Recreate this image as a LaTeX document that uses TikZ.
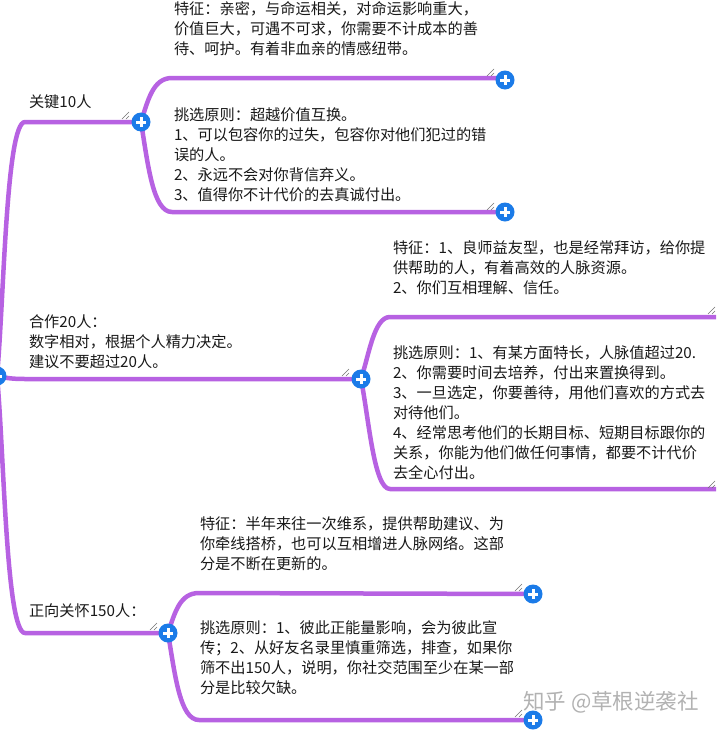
\documentclass[tikz,border=0pt]{standalone}
\usepackage{fontspec}
\setmainfont{Noto Sans CJK SC}
\usetikzlibrary{calc}
\definecolor{branch}{HTML}{B762E2}
\definecolor{plusblue}{HTML}{1B7BE8}
\tikzset{
  x=1pt,y=-1pt,
  limb/.style={draw=branch,line width=4.5pt,line cap=round,line join=round},
  txt/.style={anchor=north west,inner sep=0pt,outer sep=0pt,align=left,font=\fontsize{15.2pt}{20pt}\selectfont,text=black!90},
  plusnode/.style={circle,fill=plusblue,minimum size=19pt,inner sep=0pt},
  grip/.style={draw=black!55,line width=0.5pt},
  wmark/.style={text=black!30,inner sep=0pt,font=\fontsize{21.5pt}{22pt}\selectfont}
}
\newcommand{\plusat}[3]{%
  \node[plusnode] (#1) at (#2,#3) {};
  \draw[white,line width=3pt] ($(#1)+(-5,0)$) -- ($(#1)+(5,0)$) ($(#1)+(0,-5)$) -- ($(#1)+(0,5)$);
}
\newcommand{\gripat}[2]{%
  \draw[grip] (#1-4,#2+3) -- (#1+3,#2-4) (#1,#2+3) -- (#1+3,#2);
}
\begin{document}
\begin{tikzpicture}
\useasboundingbox (0,0) rectangle (716,731);
\clip (0,0) rectangle (716,731);
\fill[white] (0,0) rectangle (716,731);
% free ends and elbows
\coordinate (k1a) at (25,122);
\coordinate (k2a) at (25,379);
\coordinate (k3a) at (25,633);
\coordinate (r2up) at (390,317);
\coordinate (r2upend) at (716,317);
\coordinate (r2dn) at (390,489);
\coordinate (r2dnend) at (716,489);
% plus nodes positions (drawn after limbs)
\coordinate (root) at (-3,376);
\coordinate (p1) at (141,122);
\coordinate (p2) at (361,379);
\coordinate (p3) at (168,633);
\coordinate (p1a) at (505,80);
\coordinate (p1b) at (505,212);
\coordinate (p3a) at (533,594);
\coordinate (p3b) at (533,720);
% main limbs
\draw[limb] (root) .. controls (4,300) and (6,122) .. (k1a) -- (p1);
\draw[limb] (root) .. controls (6,378) and (12,379) .. (k2a) -- (p2);
\draw[limb] (root) .. controls (4,450) and (6,633) .. (k3a) -- (p3);
% branch 1
\draw[limb] (p1) .. controls (148,100) and (153,78) .. (172,78) -- (495,78) -- (p1a);
\draw[limb] (p1) .. controls (148,165) and (153,212) .. (172,212) -- (p1b);
% branch 2
\draw[limb] (p2) .. controls (369,355) and (374,317) .. (r2up) -- (r2upend);
\draw[limb] (p2) .. controls (369,420) and (374,489) .. (r2dn) -- (r2dnend);
% branch 3
\draw[limb] (p3) .. controls (175,612) and (180,593) .. (199,593) -- (p3a);
\draw[limb] (p3) .. controls (175,675) and (180,720) .. (199,720) -- (p3b);
% grips
\gripat{126}{116}
\gripat{346}{373}
\gripat{154}{627}
\gripat{491}{73}
\gripat{491}{207}
\gripat{519}{588}
\gripat{519}{714}
\gripat{712}{311}
\gripat{712}{485}
% plus
\plusat{rootp}{-3}{376}
\plusat{pa}{141}{122}
\plusat{pb}{361}{379}
\plusat{pc}{168}{633}
\plusat{paa}{505}{80}
\plusat{pab}{505}{212}
\plusat{pca}{533}{594}
\plusat{pcb}{533}{720}
% texts
\node[txt] (t1) at (29,95) {关键10人};
\node[txt] (t1a) at (174,2) {特征：亲密，与命运相关，对命运影响重大，\\价值巨大，可遇不可求，你需要不计成本的善\\待、呵护。有着非血亲的情感纽带。};
\node[txt] (t1b) at (174,108) {挑选原则：超越价值互换。\\1、可以包容你的过失，包容你对他们犯过的错\\误的人。\\2、永远不会对你背信弃义。\\3、值得你不计代价的去真诚付出。};
\node[txt] (t2) at (29,315) {合作20人：\\数字相对，根据个人精力决定。\\建议不要超过20人。};
\node[txt] (t2a) at (393,241) {特征：1、良师益友型，也是经常拜访，给你提\\供帮助的人，有着高效的人脉资源。\\2、你们互相理解、信任。};
\node[txt] (t2b) at (393,346) {挑选原则：1、有某方面特长，人脉值超过20.\\2、你需要时间去培养，付出来置换得到。\\3、一旦选定，你要善待，用他们喜欢的方式去\\对待他们。\\4、经常思考他们的长期目标、短期目标跟你的\\关系，你能为他们做任何事情，都要不计代价\\去全心付出。};
\node[txt] (t3) at (29,604) {正向关怀150人：};
\node[txt] (t3a) at (200,517) {特征：半年来往一次维系，提供帮助建议、为\\你牵线搭桥，也可以互相增进人脉网络。这部\\分是不断在更新的。};
\node[txt] (t3b) at (200,621) {挑选原则：1、彼此正能量影响，会为彼此宣\\传；2、从好友名录里慎重筛选，排查，如果你\\筛不出150人，说明，你社交范围至少在某一部\\分是比较欠缺。};
\node[wmark,anchor=west] (wm) at (523,702) {知乎 @草根逆袭社};
\end{tikzpicture}
\end{document}
